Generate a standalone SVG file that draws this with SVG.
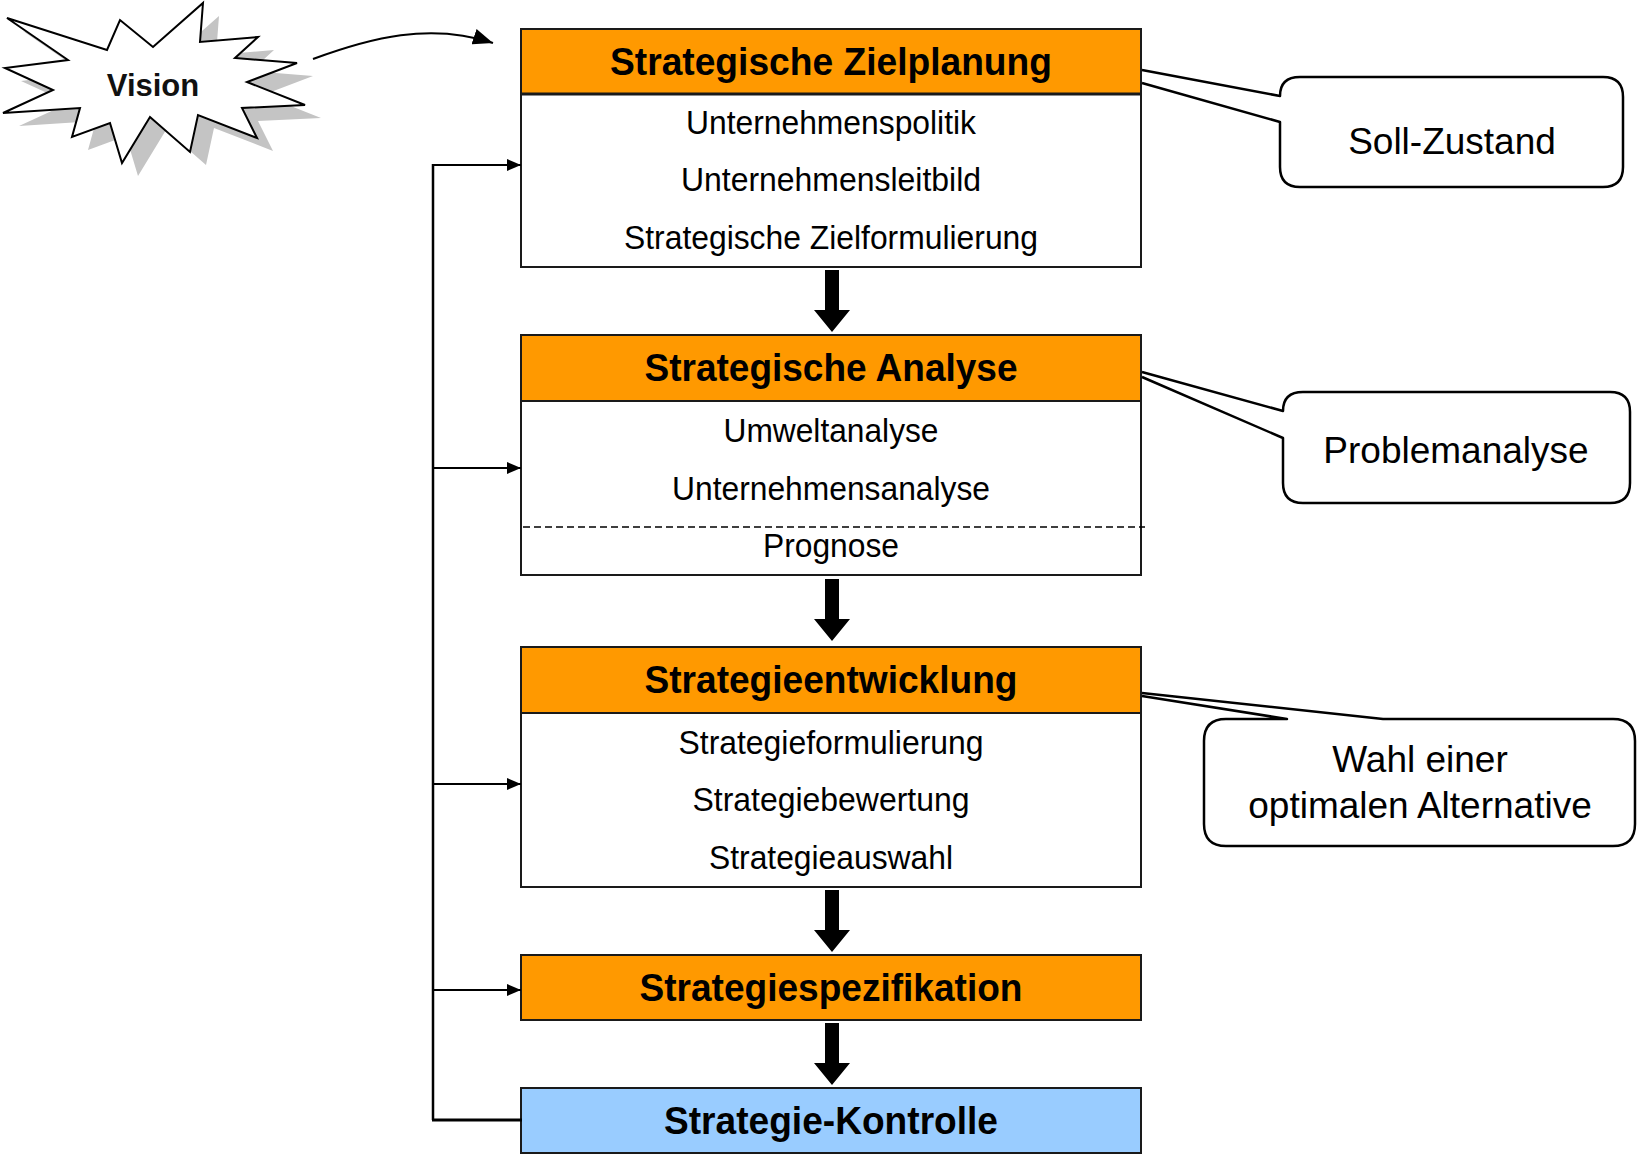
<svg xmlns="http://www.w3.org/2000/svg" width="1637" height="1156" viewBox="0 0 1637 1156">
<style>
.box{fill:#fff;stroke:#1a1a1a;stroke-width:2}
.hdr{fill:#ff9900;stroke:#1a1a1a;stroke-width:2}
.ctl{fill:#99ccff;stroke:#1a1a1a;stroke-width:2}
.ht{font-family:"Liberation Sans",Arial,sans-serif;font-weight:bold;font-size:39px;fill:#000;text-anchor:middle}
.bt{font-family:"Liberation Sans",Arial,sans-serif;font-size:34px;fill:#000;text-anchor:middle}
.ct{font-family:"Liberation Sans",Arial,sans-serif;font-size:37px;fill:#000;text-anchor:middle}
.call{fill:#fff;stroke:#000;stroke-width:2.5;stroke-linejoin:round}
.ln{fill:none;stroke:#000;stroke-width:2}
.big{fill:#000}
</style>
<defs>
<marker id="ah" markerUnits="userSpaceOnUse" markerWidth="14" markerHeight="12" refX="14" refY="6" orient="auto">
<path d="M0,0 L14,6 L0,12 z" fill="#000"/>
</marker>
<marker id="ah2" markerUnits="userSpaceOnUse" markerWidth="20" markerHeight="16" refX="20" refY="8" orient="auto">
<path d="M0,0 L20,8 L0,16 z" fill="#000"/>
</marker>
<path id="bigarrow" d="M-7,0 H7 V40 H18 L0,62 L-18,40 H-7 z"/>
<clipPath id="vclip"><rect x="0" y="0" width="313" height="170"/></clipPath>
</defs>

<g id="vision">
<polygon clip-path="url(#vclip)" fill="#c4c4c4" transform="translate(16,13)" points="7,18 107,50 120,20 153,47 203,3 200,42 258,37 235,58 297,63 247,82 305,105 242,108 257,138 198,115 190,152 150,117 122,163 110,123 72,137 80,108 3,113 53,90 5,68 68,60"/>
<polygon fill="#fff" stroke="#000" stroke-width="2" stroke-linejoin="miter" points="7,18 107,50 120,20 153,47 203,3 200,42 258,37 235,58 297,63 247,82 305,105 242,108 257,138 198,115 190,152 150,117 122,163 110,123 72,137 80,108 3,113 53,90 5,68 68,60"/>
<text x="153" y="96" font-family="'Liberation Sans',Arial,sans-serif" font-weight="bold" font-size="31" text-anchor="middle" fill="#111">Vision</text>
</g>

<g id="n1">
<rect class="box" x="521" y="29" width="620" height="238"/>
<rect class="hdr" x="521" y="29" width="620" height="65"/>
<line x1="521" y1="94" x2="1141" y2="94" stroke="#1a1a1a" stroke-width="3"/>
<text class="ht" x="831" y="75" textLength="442" lengthAdjust="spacingAndGlyphs">Strategische Zielplanung</text>
<text class="bt" x="831" y="134" textLength="290" lengthAdjust="spacingAndGlyphs">Unternehmenspolitik</text>
<text class="bt" x="831" y="191" textLength="300" lengthAdjust="spacingAndGlyphs">Unternehmensleitbild</text>
<text class="bt" x="831" y="249" textLength="414" lengthAdjust="spacingAndGlyphs">Strategische Zielformulierung</text>
</g>

<g id="n2">
<rect class="box" x="521" y="335" width="620" height="240"/>
<rect class="hdr" x="521" y="335" width="620" height="66"/>
<text class="ht" x="831" y="381" textLength="373" lengthAdjust="spacingAndGlyphs">Strategische Analyse</text>
<text class="bt" x="831" y="442" textLength="215" lengthAdjust="spacingAndGlyphs">Umweltanalyse</text>
<text class="bt" x="831" y="500" textLength="318" lengthAdjust="spacingAndGlyphs">Unternehmensanalyse</text>
<line x1="523" y1="527" x2="1145" y2="527" stroke="#000" stroke-width="1.5" stroke-dasharray="7,4"/>
<text class="bt" x="831" y="557" textLength="136" lengthAdjust="spacingAndGlyphs">Prognose</text>
</g>

<g id="n3">
<rect class="box" x="521" y="647" width="620" height="240"/>
<rect class="hdr" x="521" y="647" width="620" height="66"/>
<text class="ht" x="831" y="693" textLength="373" lengthAdjust="spacingAndGlyphs">Strategieentwicklung</text>
<text class="bt" x="831" y="754" textLength="305" lengthAdjust="spacingAndGlyphs">Strategieformulierung</text>
<text class="bt" x="831" y="811" textLength="277" lengthAdjust="spacingAndGlyphs">Strategiebewertung</text>
<text class="bt" x="831" y="869" textLength="244" lengthAdjust="spacingAndGlyphs">Strategieauswahl</text>
</g>

<g id="n4">
<rect class="hdr" x="521" y="955" width="620" height="65"/>
<text class="ht" x="831" y="1001" textLength="383" lengthAdjust="spacingAndGlyphs">Strategiespezifikation</text>
</g>

<g id="n5">
<rect class="ctl" x="521" y="1088" width="620" height="65"/>
<text class="ht" x="831" y="1134" textLength="334" lengthAdjust="spacingAndGlyphs">Strategie-Kontrolle</text>
</g>

<g id="c1">
<path class="call" d="M1142,70 L1280,96 Q1280,77 1300,77 H1603 Q1623,77 1623,97 V167 Q1623,187 1603,187 H1300 Q1280,187 1280,167 V122 L1142,83"/>
<text class="ct" x="1452" y="154">Soll-Zustand</text>
</g>

<g id="c2">
<path class="call" d="M1142,372 L1283,411 Q1283,392 1303,392 H1610 Q1630,392 1630,412 V483 Q1630,503 1610,503 H1303 Q1283,503 1283,483 V438 L1142,377"/>
<text class="ct" x="1456" y="463">Problemanalyse</text>
</g>

<g id="c3">
<path class="call" d="M1142,693 L1383,719 H1613 Q1635,719 1635,741 V824 Q1635,846 1613,846 H1226 Q1204,846 1204,824 V741 Q1204,719 1226,719 H1287 L1142,696"/>
<text class="ct" x="1420" y="772">Wahl einer</text>
<text class="ct" x="1420" y="818">optimalen Alternative</text>
</g>

<g id="connectors">
<path class="ln" d="M313,59 C370,38 430,22 493,43" marker-end="url(#ah2)"/>
<use href="#bigarrow" class="big" x="832" y="270"/>
<use href="#bigarrow" class="big" x="832" y="579"/>
<use href="#bigarrow" class="big" x="832" y="890"/>
<use href="#bigarrow" class="big" x="832" y="1023"/>
<line x1="433" y1="164" x2="433" y2="1120" stroke="#000" stroke-width="2.5"/>
<line x1="432" y1="1120" x2="522" y2="1120" stroke="#000" stroke-width="3"/>
<line class="ln" x1="433" y1="165" x2="521" y2="165" marker-end="url(#ah)"/>
<line class="ln" x1="433" y1="468" x2="521" y2="468" marker-end="url(#ah)"/>
<line class="ln" x1="433" y1="784" x2="521" y2="784" marker-end="url(#ah)"/>
<line class="ln" x1="433" y1="990" x2="521" y2="990" marker-end="url(#ah)"/>
</g>
</svg>
